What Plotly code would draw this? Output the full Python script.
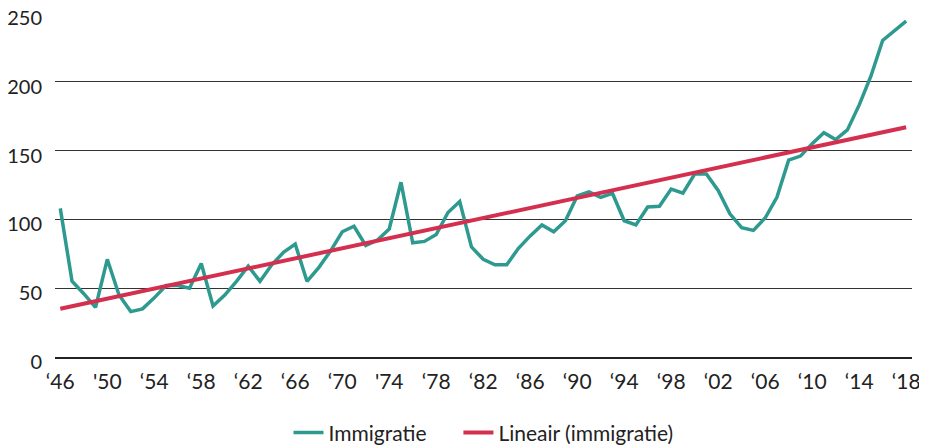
import plotly.graph_objects as go

years = list(range(1946, 2019))
immigratie = [
    108, 55, 46, 36, 71, 45, 33, 35, 43, 52,
    52, 50, 68, 37, 45, 55, 66, 55, 67, 76,
    82, 55, 65, 77, 91, 95, 81, 85, 93, 127,
    83, 84, 89, 105, 113, 80, 71, 67, 67, 79,
    88, 96, 91, 99, 117, 120, 116, 119, 99, 96,
    109, 109.5, 122, 119, 133, 133, 121, 104, 94, 92,
    101, 116, 143, 146, 155, 163, 158, 165, 183, 204,
    230, 237, 244,
]
trend_years = [1946, 2018]
trend_values = [35, 167]

tick_years = list(range(1946, 2019, 4))
tick_labels = [
    "\u201846", "'50", "\u201854", "\u201858", "\u201862", "\u201866", "\u201870",
    "'74", "\u201878", "\u201882", "\u201886", "\u201890", "\u201894", "\u201898",
    "\u201802", "\u201806", "\u201810", "\u201814", "\u201818",
]
y_ticks = [0, 50, 100, 150, 200, 250]

TEAL = "#2E9A8F"
RED = "#D42F4E"

fig = go.Figure()
fig.add_trace(go.Scatter(
    x=years, y=immigratie,
    mode="lines", name="Immigratie" + "\u00a0" * 5,
    line=dict(color=TEAL, width=3.5),
))
fig.add_trace(go.Scatter(
    x=trend_years, y=trend_values,
    mode="lines", name="Lineair (immigratie)",
    line=dict(color=RED, width=4),
))

# page body has an 8px margin, so the figure is 8px smaller than the window
fig.update_layout(
    width=919, height=438,
    margin=dict(t=4, b=89, l=47, r=15, autoexpand=False),
    plot_bgcolor="white",
    paper_bgcolor="white",
    font=dict(family="Lato", size=21, color="#222222"),
    showlegend=True,
    legend=dict(
        orientation="h", x=0.5, xanchor="center", y=-0.22, yanchor="middle",
        font=dict(size=21), itemwidth=30,
    ),
)
fig.update_xaxes(
    range=[1945.55, 2018.5], automargin=False,
    tickmode="array", tickvals=tick_years, ticktext=tick_labels,
    showgrid=False, zeroline=False,
    showline=True, linecolor="#222222", linewidth=1.5,
    ticks="", ticklabelstandoff=5, ticklabeloverflow="allow",
)
fig.update_yaxes(
    range=[0, 250.7], automargin=False,
    tickmode="array", tickvals=y_ticks, tickfont=dict(size=20),
    showgrid=True, gridcolor="#333333", gridwidth=1,
    zeroline=False, showline=False,
    ticks="", ticklabelstandoff=12, ticklabelshift=5, ticklabeloverflow="allow",
)

fig.write_html("out.html")
